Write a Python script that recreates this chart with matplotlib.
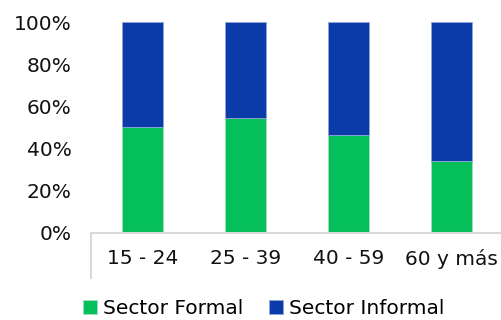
import matplotlib.pyplot as plt
from matplotlib.ticker import PercentFormatter
import numpy as np

categories = ["15 - 24", "25 - 39", "40 - 59", "60 y más"]
formal = [50.2, 54.5, 46.3, 34.0]
informal = [100 - v for v in formal]
yticks = [0, 20, 40, 60, 80, 100]

green = "#04BF5A"
blue = "#0A3BA8"

plt.rcParams['font.family'] = ['DejaVu Sans']

fig = plt.figure(figsize=(5.02, 3.2), dpi=100)
ax = fig.add_axes([0.181, 0.273, 0.821, 0.657])

x = np.arange(len(categories))
ax.bar(x, formal, width=0.4, color=green, edgecolor="#9FE0BC", linewidth=0.6,
       label="Sector Formal")
ax.bar(x, informal, width=0.4, bottom=formal, color=blue, edgecolor="#8FA5D9",
       linewidth=0.6, label="Sector Informal")

ax.set_xlim(-0.5, 3.5)
ax.set_ylim(0, 100)
ax.set_yticks(yticks)
ax.yaxis.set_major_formatter(PercentFormatter(decimals=0))
ax.set_xticks(x)
ax.set_xticklabels(categories)
ax.tick_params(axis='both', length=0, labelsize=14.5, colors='#111111')
ax.tick_params(axis='x', pad=12)
ax.tick_params(axis='y', pad=14)

for s in ['top', 'right', 'left']:
    ax.spines[s].set_visible(False)
ax.spines['bottom'].set_color('#D9D9D9')
ax.spines['bottom'].set_linewidth(1.5)

# left category boundary line below the axis
ax.plot([-0.5, -0.5], [0, -21.5], color='#D9D9D9', lw=1.5, clip_on=False)

fig.legend(loc='center', bbox_to_anchor=(0.525, 0.035), ncol=2, frameon=False,
           fontsize=14.5, handlelength=0.7, handleheight=0.7, handletextpad=0.3,
           columnspacing=1.3, borderaxespad=0, borderpad=0)

fig.savefig("out.png", dpi=100)
